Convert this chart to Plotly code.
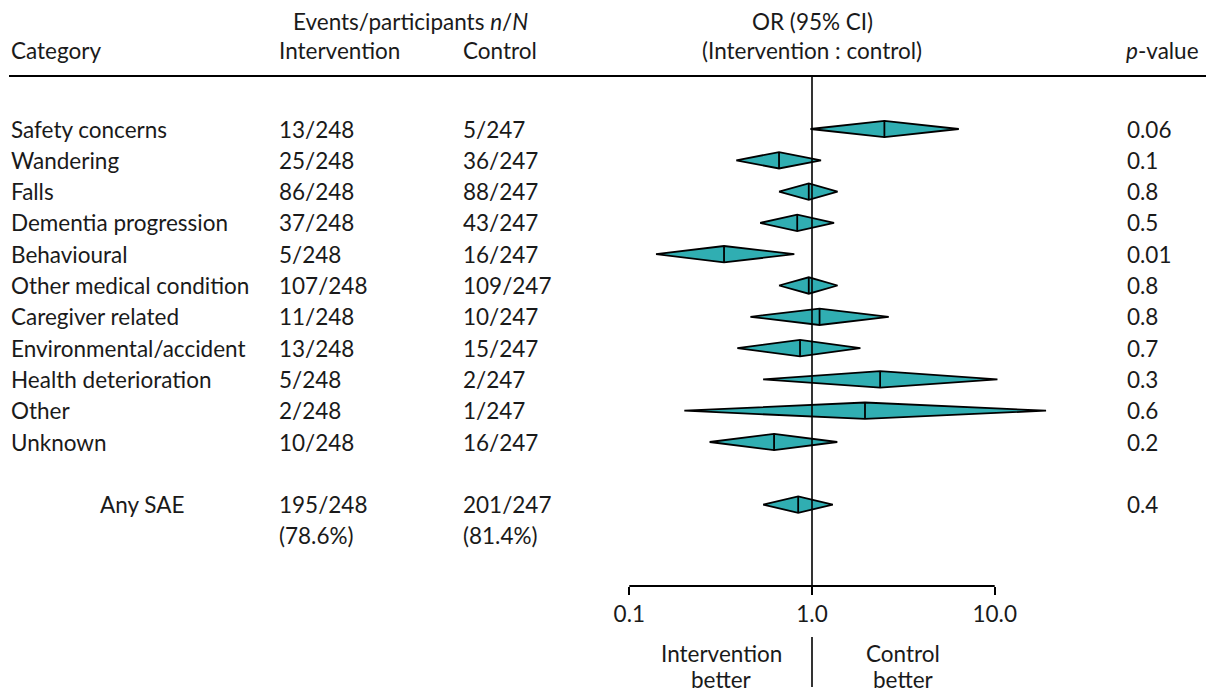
import plotly.graph_objects as go

# ---------------- data ----------------
categories = ["Safety concerns", "Wandering", "Falls", "Dementia progression", "Behavioural",
              "Other medical condition", "Caregiver related", "Environmental/accident",
              "Health deterioration", "Other", "Unknown", "Any SAE"]
intervention = ["13/248", "25/248", "86/248", "37/248", "5/248", "107/248", "11/248", "13/248",
                "5/248", "2/248", "10/248", "195/248"]
control = ["5/247", "36/247", "88/247", "43/247", "16/247", "109/247", "10/247", "15/247",
           "2/247", "1/247", "16/247", "201/247"]
odds_ratio = [2.49, 0.66, 0.96, 0.83, 0.33, 0.96, 1.10, 0.86, 2.36, 1.95, 0.62, 0.84]
ci_low = [0.98, 0.385, 0.66, 0.52, 0.14, 0.66, 0.46, 0.39, 0.54, 0.20, 0.275, 0.54]
ci_high = [6.36, 1.12, 1.38, 1.32, 0.80, 1.38, 2.63, 1.84, 10.35, 19.1, 1.375, 1.30]
p_values = ["0.06", "0.1", "0.8", "0.5", "0.01", "0.8", "0.8", "0.7", "0.3", "0.6", "0.2", "0.4"]
row_pos = [0, 1, 2, 3, 4, 5, 6, 7, 8, 9, 10, 12]
total_pct = ["(78.6%)", "(81.4%)"]
tick_vals = [0.1, 1, 10]
tick_text = ["0.1", "1.0", "10.0"]

# ---------------- layout constants ----------------
OFF = 8                      # page body margin of the html page
W, H = 1214 - OFF, 693 - OFF
FONT = "Lato"
FS = 22.5
TXT = "#1a1a1a"
TEAL = "#30AEB2"

def px(x):
    return (x - OFF) / W

def py(y):
    return 1 - (y - OFF) / H

# x axis (window pixels): pixel = 812 + 182.7*log10(v)
X1PX, DEC = 812.0, 182.7
DOM_L, DOM_R = 480.0, 1110.0
xr = [(DOM_L - X1PX) / DEC, (DOM_R - X1PX) / DEC]
# y axis (window pixels): pixel = 129 + 31.3*row
Y0PX, ROWPX = 129.0, 31.3
AXIS_Y = 586.0
yr = [(AXIS_Y - Y0PX) / ROWPX, (OFF - Y0PX) / ROWPX]
HALF = 8.2 / ROWPX

fig = go.Figure()

for i in range(len(categories)):
    r = row_pos[i]
    o, lo, hi = odds_ratio[i], ci_low[i], ci_high[i]
    fig.add_trace(go.Scatter(
        x=[lo, o, hi, o, lo, None, o, o],
        y=[r, r - HALF, r, r + HALF, r, None, r - HALF, r + HALF],
        mode="lines", fill="toself", fillcolor=TEAL,
        line=dict(color="black", width=1.8), hoverinfo="skip", showlegend=False))

fig.update_layout(
    width=W, height=H, autosize=False,
    margin=dict(l=0, r=0, t=0, b=0),
    paper_bgcolor="white", plot_bgcolor="white",
    font=dict(family=FONT, size=FS, color=TXT),
    xaxis=dict(type="log", range=xr, domain=[px(DOM_L), px(DOM_R)],
               showgrid=False, zeroline=False, showline=False,
               tickmode="array", tickvals=tick_vals, ticktext=tick_text,
               ticks="outside", ticklen=8, tickwidth=2, tickcolor="black",
               tickfont=dict(family=FONT, size=FS, color=TXT)),
    yaxis=dict(range=yr, domain=[py(AXIS_Y), 1], visible=False, showgrid=False,
               zeroline=False),
)

shapes = []
# header rule
shapes.append(dict(type="line", xref="paper", yref="paper", x0=px(9), x1=px(1206),
                   y0=py(76), y1=py(76), line=dict(color="black", width=2)))
# reference line at OR = 1
shapes.append(dict(type="line", xref="x", yref="paper", x0=1, x1=1,
                   y0=py(AXIS_Y), y1=py(76), line=dict(color="black", width=1.6)))
# axis line from first to last tick
shapes.append(dict(type="line", xref="x", yref="paper", x0=tick_vals[0], x1=tick_vals[-1],
                   y0=py(AXIS_Y), y1=py(AXIS_Y), line=dict(color="black", width=2)))
# divider below the axis
shapes.append(dict(type="line", xref="x", yref="paper", x0=1, x1=1,
                   y0=py(687), y1=py(637), line=dict(color="black", width=1.6)))
fig.update_layout(shapes=shapes)

ann = []

def text(x, y, s, anchor="left", yref="paper"):
    ann.append(dict(x=x, y=y, xref="paper", yref=yref, text=s, showarrow=False,
                    xanchor=anchor, yanchor="middle",
                    font=dict(family=FONT, size=FS, color=TXT)))

# headers
text(px(410), py(21), "Events/participants <i>n</i>/<i>N</i>", "center")
text(px(9), py(50), "Category")
text(px(277), py(50), "Intervention")
text(px(461), py(50), "Control")
text(px(812), py(21), "OR (95% CI)", "center")
text(px(812), py(50), "(Intervention : control)", "center")
text(px(1124), py(50), "<i>p</i>-value")

for i in range(len(categories)):
    r = row_pos[i]
    cat_x = px(9) if categories[i] != "Any SAE" else px(98)
    text(cat_x, r, categories[i], yref="y")
    text(px(277), r, intervention[i], yref="y")
    text(px(461), r, control[i], yref="y")
    text(px(1125), r, p_values[i], yref="y")

text(px(277), row_pos[-1] + 1, total_pct[0], yref="y")
text(px(461), row_pos[-1] + 1, total_pct[1], yref="y")

# direction labels
text(px(721), py(653), "Intervention", "center")
text(px(721), py(679), "better", "center")
text(px(903), py(653), "Control", "center")
text(px(903), py(679), "better", "center")

fig.update_layout(annotations=ann)
fig.write_html("out.html")
